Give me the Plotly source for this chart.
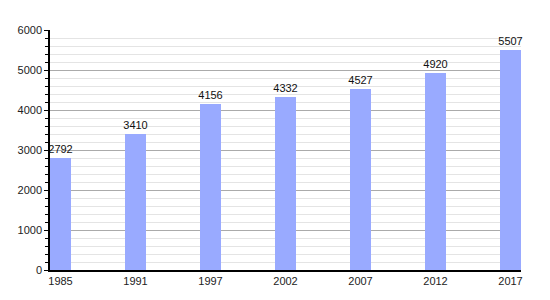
import plotly.graph_objects as go

years = ["1985", "1991", "1997", "2002", "2007", "2012", "2017"]
population = [2792, 3410, 4156, 4332, 4527, 4920, 5507]
y_ticks = [0, 1000, 2000, 3000, 4000, 5000, 6000]

positions = list(range(len(years)))
bar_w = 0.28

fig = go.Figure(go.Bar(
    x=positions, y=population, width=bar_w,
    marker=dict(color="#99aaff", line=dict(width=0)),
    text=[str(v) for v in population], textposition="outside",
    constraintext="none",
    textfont=dict(family="Liberation Sans, Arial", size=11, color="#111111"),
    cliponaxis=False,
))

fig.update_layout(
    width=550, height=300,
    margin=dict(l=50, r=29, t=30, b=30),
    paper_bgcolor="white", plot_bgcolor="white",
    showlegend=False,
    font=dict(family="Liberation Sans, Arial", size=11, color="#222222"),
    bargap=0,
)
fig.update_xaxes(
    range=[-bar_w / 2, positions[-1] + bar_w / 2],
    tickmode="array", tickvals=positions, ticktext=years,
    showgrid=False, zeroline=False,
    showline=True, linecolor="black", linewidth=1.5,
    ticks="", tickfont=dict(size=11, color="#222222"),
)
fig.update_yaxes(
    range=[0, 6000], tickmode="array", tickvals=y_ticks,
    showgrid=True, gridcolor="#aaaaaa", gridwidth=1,
    zeroline=False,
    showline=True, linecolor="black", linewidth=1.5,
    ticks="outside", ticklen=4, tickcolor="black",
    tickfont=dict(size=11, color="#222222"),
    minor=dict(dtick=200, showgrid=True, gridcolor="#e4e4e4", gridwidth=1,
               ticks="outside", ticklen=3, tickcolor="black"),
)

fig.write_html("out.html")
